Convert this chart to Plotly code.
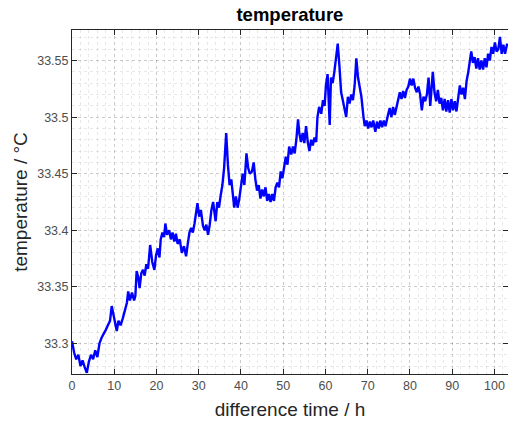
import plotly.graph_objects as go

time_h = [0, 0.5, 1.0, 1.5, 2.0, 2.5, 3.0, 3.5, 4.0, 4.5, 5.0, 5.5, 6.0, 6.5, 7.0, 7.5, 8.0, 8.5, 9.0, 9.4,
          9.8, 10.2, 10.6, 11.0, 11.5, 12.0, 12.5, 13.0, 13.3, 13.7, 14.2, 14.7, 15.0, 15.3, 15.7, 16.0, 16.4, 16.8, 17.2, 17.6,
          18.0, 18.5, 19.0, 19.5, 19.9, 20.3, 20.7, 21.0, 21.4, 21.8, 22.1, 22.5, 23.0, 23.4, 23.8, 24.2, 24.6, 25.0, 25.5, 26.0,
          26.5, 27.0, 27.4, 27.8, 28.2, 28.6, 29.0, 29.4, 29.7, 30.1, 30.5, 31.0, 31.4, 31.8, 32.2, 32.6, 33.0, 33.4, 33.7, 34.0,
          34.4, 34.8, 35.2, 35.6, 36.0, 36.5, 36.9, 37.3, 37.7, 38.0, 38.4, 38.8, 39.2, 39.6, 40.0, 40.4, 40.8, 41.3, 41.7, 42.1,
          42.6, 43.0, 43.4, 43.8, 44.2, 44.6, 45.0, 45.4, 45.8, 46.2, 46.6, 47.0, 47.4, 47.8, 48.2, 48.6, 49.0, 49.4, 49.8, 50.2,
          50.6, 51.0, 51.4, 51.9, 52.3, 52.7, 53.1, 53.5, 53.8, 54.2, 54.6, 55.0, 55.4, 55.8, 56.2, 56.6, 57.0, 57.4, 57.8, 58.1,
          58.5, 59.0, 59.4, 59.8, 60.1, 60.5, 61.0, 61.3, 61.7, 62.1, 62.5, 62.9, 63.3, 63.7, 64.1, 64.5, 64.9, 65.3, 65.7, 66.1,
          66.5, 66.9, 67.3, 67.7, 68.1, 68.5, 69.0, 69.3, 69.7, 70.1, 70.5, 70.9, 71.3, 71.8, 72.2, 72.6, 73.0, 73.4, 73.8, 74.2,
          74.8, 75.2, 75.6, 76.0, 76.4, 76.8, 77.2, 77.6, 78.0, 78.4, 78.8, 79.2, 79.6, 80.0, 80.4, 80.8, 81.2, 81.6, 82.0, 82.4,
          82.8, 83.2, 83.6, 84.0, 84.4, 84.8, 85.4, 85.8, 86.2, 86.6, 87.0, 87.4, 87.8, 88.2, 88.6, 89.0, 89.4, 89.8, 90.2, 90.6,
          91.0, 91.4, 91.8, 92.2, 92.6, 93.0, 93.4, 93.8, 94.1, 94.5, 94.9, 95.3, 95.7, 96.1, 96.5, 96.9, 97.3, 97.7, 98.1, 98.5,
          98.9, 99.3, 99.7, 100.1, 100.5, 100.9, 101.3, 101.7, 102.1, 102.5, 103.0]

temperature_c = [33.302, 33.292, 33.286, 33.290, 33.280, 33.285, 33.279, 33.274, 33.284, 33.290, 33.286, 33.294, 33.288, 33.300, 33.305, 33.308, 33.312, 33.316, 33.320, 33.333,
                 33.326, 33.320, 33.311, 33.320, 33.316, 33.322, 33.330, 33.336, 33.346, 33.338, 33.345, 33.338, 33.342, 33.364, 33.358, 33.349, 33.362, 33.365, 33.360, 33.370,
                 33.366, 33.387, 33.372, 33.365, 33.378, 33.384, 33.376, 33.392, 33.398, 33.394, 33.406, 33.396, 33.400, 33.392, 33.398, 33.390, 33.397, 33.388, 33.392, 33.380,
                 33.386, 33.377, 33.388, 33.398, 33.402, 33.398, 33.406, 33.416, 33.424, 33.412, 33.418, 33.404, 33.400, 33.405, 33.396, 33.405, 33.418, 33.425, 33.416, 33.408,
                 33.425, 33.420, 33.431, 33.440, 33.455, 33.486, 33.458, 33.440, 33.445, 33.432, 33.420, 33.430, 33.420, 33.428, 33.440, 33.450, 33.440, 33.468, 33.455, 33.450,
                 33.452, 33.460, 33.445, 33.435, 33.440, 33.428, 33.436, 33.430, 33.438, 33.426, 33.432, 33.425, 33.432, 33.426, 33.438, 33.442, 33.438, 33.452, 33.446, 33.455,
                 33.465, 33.458, 33.474, 33.467, 33.474, 33.468, 33.480, 33.498, 33.486, 33.478, 33.486, 33.477, 33.492, 33.478, 33.470, 33.480, 33.475, 33.482, 33.478, 33.500,
                 33.509, 33.503, 33.515, 33.510, 33.528, 33.538, 33.493, 33.535, 33.530, 33.540, 33.555, 33.565, 33.545, 33.522, 33.515, 33.506, 33.500, 33.518, 33.512, 33.520,
                 33.515, 33.528, 33.552, 33.535, 33.528, 33.518, 33.500, 33.492, 33.497, 33.490, 33.496, 33.491, 33.497, 33.487, 33.496, 33.490, 33.497, 33.491, 33.497, 33.492,
                 33.502, 33.508, 33.500, 33.509, 33.502, 33.509, 33.515, 33.522, 33.516, 33.523, 33.517, 33.524, 33.527, 33.534, 33.528, 33.534, 33.526, 33.522, 33.527, 33.520,
                 33.506, 33.518, 33.514, 33.520, 33.535, 33.510, 33.540, 33.522, 33.514, 33.524, 33.512, 33.517, 33.506, 33.516, 33.505, 33.515, 33.504, 33.516, 33.506, 33.514,
                 33.505, 33.518, 33.528, 33.520, 33.526, 33.516, 33.532, 33.540, 33.550, 33.558, 33.548, 33.553, 33.543, 33.552, 33.542, 33.550, 33.542, 33.552, 33.544, 33.556,
                 33.550, 33.562, 33.556, 33.566, 33.558, 33.560, 33.571, 33.556, 33.564, 33.556, 33.565]

x_ticks = [0, 10, 20, 30, 40, 50, 60, 70, 80, 90, 100]
y_ticks = [33.3, 33.35, 33.4, 33.45, 33.5, 33.55]
y_tick_labels = ["33.3", "33.35", "33.4", "33.45", "33.5", "33.55"]

fig = go.Figure()
fig.add_trace(go.Scatter(x=time_h, y=temperature_c, mode="lines",
                         line=dict(color="#0000ff", width=2.4), showlegend=False))

font_family = "Liberation Sans, Arial, sans-serif"
grid_col = "rgba(0,0,0,0.13)"
minor_col = "rgba(0,0,0,0.09)"

fig.update_layout(
    width=508, height=426,
    margin=dict(l=72, r=0, t=30, b=52),
    paper_bgcolor="white", plot_bgcolor="white",
    font=dict(family=font_family, color="#262626", size=12),
    title=dict(text="<b>temperature</b>", x=0.5707, xanchor="center", y=0.967, yanchor="middle",
               font=dict(size=18.5, color="black")),
)
fig.update_xaxes(
    range=[0, 103.2], tickvals=x_ticks, ticks="inside", ticklen=5, tickcolor="#262626",
    showline=True, linecolor="#262626", linewidth=1, mirror="ticks",
    showgrid=True, gridcolor=grid_col, griddash="dot", gridwidth=1, zeroline=False,
    minor=dict(dtick=2, tick0=0, showgrid=True, gridcolor=minor_col, griddash="dot", ticks=""),
    tickfont=dict(size=12.5, color="#4d4d4d"),
    title=dict(text="difference time / h", font=dict(size=19, color="#262626"), standoff=10),
)
fig.update_yaxes(
    range=[33.273, 33.577], tickvals=y_ticks, ticktext=y_tick_labels, ticks="inside", ticklen=5,
    tickcolor="#262626", showline=True, linecolor="#262626", linewidth=1, mirror="ticks",
    showgrid=True, gridcolor=grid_col, griddash="dot", gridwidth=1, zeroline=False,
    minor=dict(dtick=0.01, tick0=33.3, showgrid=True, gridcolor=minor_col, griddash="dot", ticks=""),
    tickfont=dict(size=12.5, color="#4d4d4d"),
    title=dict(text="temperature / °C", font=dict(size=19, color="#262626"), standoff=4),
)

fig.write_html("out.html")
